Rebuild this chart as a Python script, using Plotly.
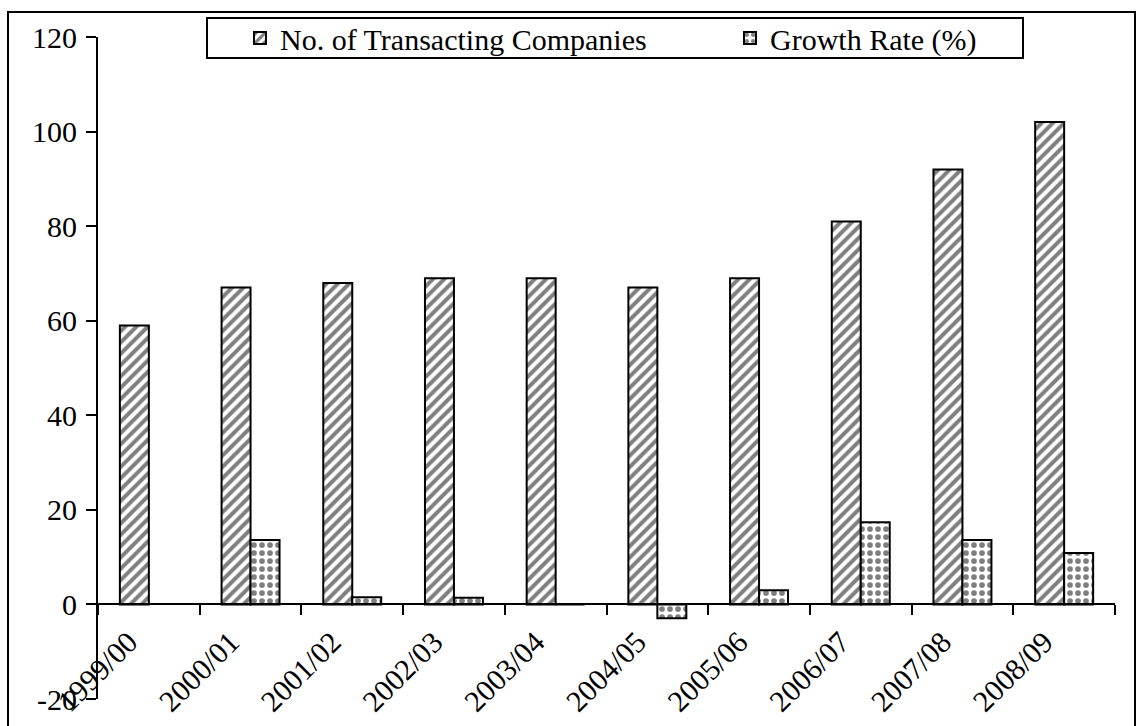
import plotly.graph_objects as go

years = ['1999/00', '2000/01', '2001/02', '2002/03', '2003/04',
         '2004/05', '2005/06', '2006/07', '2007/08', '2008/09']
companies = [59, 67, 68, 69, 69, 67, 69, 81, 92, 102]
growth = [None, 13.6, 1.5, 1.4, 0, -2.9, 3.0, 17.4, 13.6, 10.9]
y_ticks = [-20, 0, 20, 40, 60, 80, 100, 120]
y_tick_text = ['-20', '0', '20', '40', '60', '80', '100', '120']

FONT = "Times New Roman, Liberation Serif, serif"
FS = 30

fig = go.Figure()
fig.add_trace(go.Bar(
    x=years, y=companies, name='No. of Transacting Companies',
    marker=dict(color='white', line=dict(color='black', width=2),
                pattern=dict(shape='/', fgcolor='black', bgcolor='white',
                             size=8, solidity=0.5)),
    legendwidth=445,
))
fig.add_trace(go.Bar(
    x=years, y=growth, name='Growth Rate (%)',
    marker=dict(color='white', line=dict(color='black', width=2),
                pattern=dict(shape='.', fgcolor='black', bgcolor='white',
                             size=8, solidity=0.4)),
    legendwidth=251,
))

fig.update_layout(
    width=1138, height=726,
    margin=dict(l=98, r=23, t=34, b=27),
    paper_bgcolor='white', plot_bgcolor='white',
    barmode='group', bargap=0.43, bargroupgap=0,
    font=dict(family=FONT, size=FS, color='black'),
    showlegend=True,
    legend=dict(orientation='h', x=0.1396, xanchor='left', y=0.9985, yanchor='middle',
                bgcolor='rgba(0,0,0,0)', borderwidth=0,
                font=dict(family=FONT, size=FS, color='black'),
                traceorder='normal'),
    xaxis=dict(type='category', anchor='free', position=20/140,
               showline=True, linecolor='black', linewidth=2,
               ticks='outside', ticklen=10, tickwidth=2, tickcolor='black',
               tickson='boundaries', tickangle=-45, showgrid=False,
               ticklabelstandoff=7, ticklabelshift=-20,
               automargin=False, fixedrange=True),
    yaxis=dict(range=[-20, 120], tickvals=y_ticks, ticktext=y_tick_text,
               showline=True,
               linecolor='black', linewidth=2, ticks='outside', ticklen=10,
               tickwidth=2, tickcolor='black', showgrid=False, zeroline=False,
               automargin=False, ticklabelstandoff=3),
    shapes=[
        # outer chart frame
        dict(type='rect', xref='paper', yref='paper',
             x0=(8 - 98) / 1017, x1=(1135 - 98) / 1017,
             y0=-0.2, y1=1 + 25 / 665,
             line=dict(color='black', width=2), fillcolor='rgba(0,0,0,0)',
             layer='below'),
        # legend frame
        dict(type='rect', xref='paper', yref='paper',
             x0=(207 - 98) / 1017, x1=(1023 - 98) / 1017,
             y0=1 - (55 - 34) / 665, y1=1 + (34 - 15) / 665,
             line=dict(color='black', width=2), fillcolor='white',
             layer='above'),
    ],
)

fig.write_html("out.html")
